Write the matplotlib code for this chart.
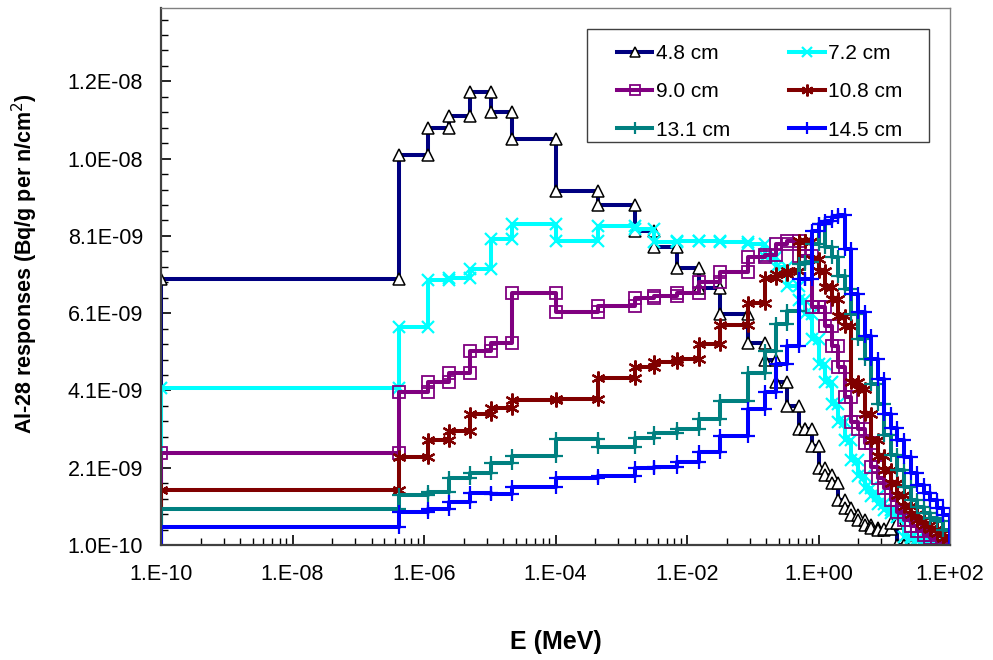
import numpy as np
import matplotlib
matplotlib.use("Agg")
import matplotlib.pyplot as plt
from matplotlib.patches import Rectangle
from matplotlib.ticker import FixedLocator, FuncFormatter

plt.rcParams["font.family"] = ["Liberation Sans", "DejaVu Sans"]

# energy group edges (MeV)
E_EDGES = [1e-10, 4.14e-7, 1.15e-6, 2.4e-6, 5.0e-6, 1.05e-5, 2.2e-5, 1.0e-4,
           4.5e-4, 1.6e-3, 3.2e-3, 7.0e-3, 1.5e-2, 3.2e-2, 8.5e-2, 0.155,
           0.224, 0.33, 0.50, 0.63, 0.79, 1.0, 1.26, 1.58, 2.0, 2.51, 3.16,
           3.98, 5.01, 6.31, 7.94, 10.0, 12.6, 15.8, 20.0, 25.1, 31.6, 39.8,
           50.1, 63.1, 79.4, 100.0]

# responses per group, in units of 1e-9 Bq/g per n/cm2
R_4_8 = [6.98, 10.19, 10.90, 11.20, 11.83, 11.31, 10.60, 9.27, 8.89, 8.24,
         7.81, 7.26, 6.74, 6.07, 5.34, 4.90, 4.32, 3.70,
         3.09, 3.09, 2.65, 2.10, 1.90, 1.70, 1.27, 1.06, 0.88, 0.75, 0.62,
         0.54, 0.49, 0.52, 0.68, 0.10, 0.10, 0.10, 0.10, 0.10, 0.10, 0.10, 0.10]
R_7_2 = [4.17, 5.73, 6.96, 7.01, 7.24, 8.02, 8.41, 7.96, 8.35, 8.28,
         7.94, 7.98, 7.98, 7.94, 7.89, 7.55, 7.30, 6.80,
         6.45, 6.07, 5.42, 4.78, 4.31, 3.74, 3.29, 2.83, 2.31, 1.89, 1.58,
         1.37, 1.16, 1.01, 0.93, 0.83, 0.30, 0.25, 0.20, 0.17, 0.14, 0.12, 0.10]
R_9_0 = [2.48, 4.06, 4.32, 4.56, 5.12, 5.34, 6.62, 6.13, 6.29, 6.49,
         6.54, 6.62, 6.90, 7.16, 7.55, 7.60, 7.89, 7.98,
         7.59, 7.59, 6.26, 6.26, 5.76, 5.24, 4.72, 3.94, 3.29, 3.09, 2.75,
         2.13, 1.84, 1.58, 1.27, 0.96, 0.75, 0.59, 0.46, 0.36, 0.28, 0.20, 0.15]
R_10_8 = [1.53, 2.39, 2.81, 3.04, 3.48, 3.65, 3.85, 3.87, 4.43, 4.70,
          4.83, 4.91, 5.29, 5.79, 6.36, 7.01, 7.11, 7.20,
          7.98, 7.98, 7.50, 7.19, 6.78, 6.46, 6.03, 5.77, 4.33, 4.13, 3.48,
          2.83, 2.41, 2.05, 1.71, 1.40, 1.11, 0.91, 0.75, 0.62, 0.52, 0.41, 0.28]
R_13_1 = [1.04, 1.40, 1.46, 1.83, 1.96, 2.22, 2.41, 2.85, 2.64, 2.87,
          3.01, 3.09, 3.35, 3.82, 4.56, 5.12, 5.81, 6.16,
          7.37, 7.42, 7.89, 8.41, 7.81, 7.55, 7.06, 6.72, 6.07, 5.42, 4.91,
          4.26, 3.74, 2.96, 2.44, 2.05, 1.61, 1.27, 1.09, 0.93, 0.80, 0.72, 0.49]
R_14_5 = [0.56, 0.96, 1.04, 1.22, 1.44, 1.42, 1.60, 1.83, 1.89, 2.09,
          2.13, 2.26, 2.52, 2.91, 3.61, 4.06, 4.78, 5.25,
          6.98, 6.98, 8.23, 8.41, 8.49, 8.59, 8.65, 7.76, 6.59, 6.13, 5.50,
          4.91, 4.39, 3.48, 3.14, 2.83, 2.39, 1.97, 1.66, 1.45, 1.27, 1.06, 0.88]

LABELS = ["4.8 cm", "7.2 cm", "9.0 cm", "10.8 cm", "13.1 cm", "14.5 cm"]
SERIES = [R_4_8, R_7_2, R_9_0, R_10_8, R_13_1, R_14_5]

YMIN, YMAX = 1.0e-10, 1.40e-8

STYLE = {
    "4.8 cm": dict(color="#000080", marker="^", mfc="white", mec="black", ms=8, mew=1.1),
    "7.2 cm": dict(color="#00FFFF", marker="x", mec="#00FFFF", ms=9, mew=1.6),
    "9.0 cm": dict(color="#800080", marker="s", mfc="none", mec="#800080", ms=8, mew=1.3),
    "10.8 cm": dict(color="#800000", marker=(6, 2, 0), mec="#800000", ms=10, mew=1.6),
    "13.1 cm": dict(color="#008080", marker="+", mec="#008080", ms=10, mew=1.6),
    "14.5 cm": dict(color="#0000FF", marker="+", mec="#0000FF", ms=10, mew=1.6),
}


def step_points(edges, vals):
    xs, ys = [edges[0]], [YMIN]
    for i, v in enumerate(vals):
        xs += [edges[i], edges[i + 1]]
        ys += [v * 1e-9, v * 1e-9]
    xs.append(edges[-1])
    ys.append(YMIN)
    return xs, ys


fig = plt.figure(figsize=(9.93, 6.60), dpi=100)
ax = fig.add_axes([161 / 993, 1 - 545 / 660, 789 / 993, 537 / 660])

handles = {}
for lab, vals in zip(LABELS, SERIES):
    xs, ys = step_points(E_EDGES, vals)
    h, = ax.plot(xs, ys, lw=2.9, markevery=slice(1, -1), label=lab, **STYLE[lab])
    handles[lab] = h

ax.set_xscale("log")
ax.set_xlim(1e-10, 1e2)
ax.set_ylim(YMIN, YMAX)

ax.xaxis.set_major_locator(FixedLocator([10.0 ** e for e in range(-10, 3, 2)]))
ax.xaxis.set_minor_locator(FixedLocator([10.0 ** e * k * k for e in range(-10, 2, 2) for k in range(2, 10)]))
ax.xaxis.set_major_formatter(FuncFormatter(lambda v, p: f"1.E{int(round(np.log10(v))):+03d}"))
ax.xaxis.set_minor_formatter(FuncFormatter(lambda v, p: ""))

ax.yaxis.set_major_locator(FixedLocator([1e-10 + k * 2e-9 for k in range(7)]))
ax.yaxis.set_minor_locator(FixedLocator([1e-10 + k * 4e-10 for k in range(35)]))
ax.yaxis.set_major_formatter(FuncFormatter(lambda v, p: f"{v:.1E}"))

ax.tick_params(axis="both", which="both", direction="in", labelsize=15.5, colors="black")
ax.tick_params(axis="both", which="major", length=7, width=1.2)
ax.tick_params(axis="y", which="major", pad=13)
ax.tick_params(axis="x", which="major", pad=14)
ax.tick_params(axis="both", which="minor", length=5, width=1.0)

for side in ["left", "bottom"]:
    ax.spines[side].set_color("#404040")
    ax.spines[side].set_linewidth(1.6)
for side in ["top", "right"]:
    ax.spines[side].set_color("#808080")
    ax.spines[side].set_linewidth(1.0)

ax.set_ylabel("Al-28 responses (Bq/g per n/cm$^2$)", fontsize=15.5, fontweight="bold")
ax.yaxis.set_label_coords(-0.153, 0.525)
ax.set_xlabel("E (MeV)", fontsize=18, fontweight="bold")
ax.xaxis.set_label_coords(0.5, -0.158)

# legend box drawn separately so its padding can match the original
ax.add_patch(Rectangle((0.540, 0.7505), 0.4334, 0.2104, transform=ax.transAxes,
                       facecolor="white", edgecolor="#404040", lw=1.0, zorder=4))
order = ["4.8 cm", "9.0 cm", "13.1 cm", "7.2 cm", "10.8 cm", "14.5 cm"]
leg = ax.legend([handles[k] for k in order], order, ncol=2, loc="upper left",
                bbox_to_anchor=(0.578, 0.933), borderaxespad=0, borderpad=0,
                fontsize=15, frameon=False, handlelength=1.7, handletextpad=0.15,
                columnspacing=2.85, labelspacing=0.93, markerscale=0.85)
leg.set_zorder(5)

fig.savefig("out.png", dpi=100)
